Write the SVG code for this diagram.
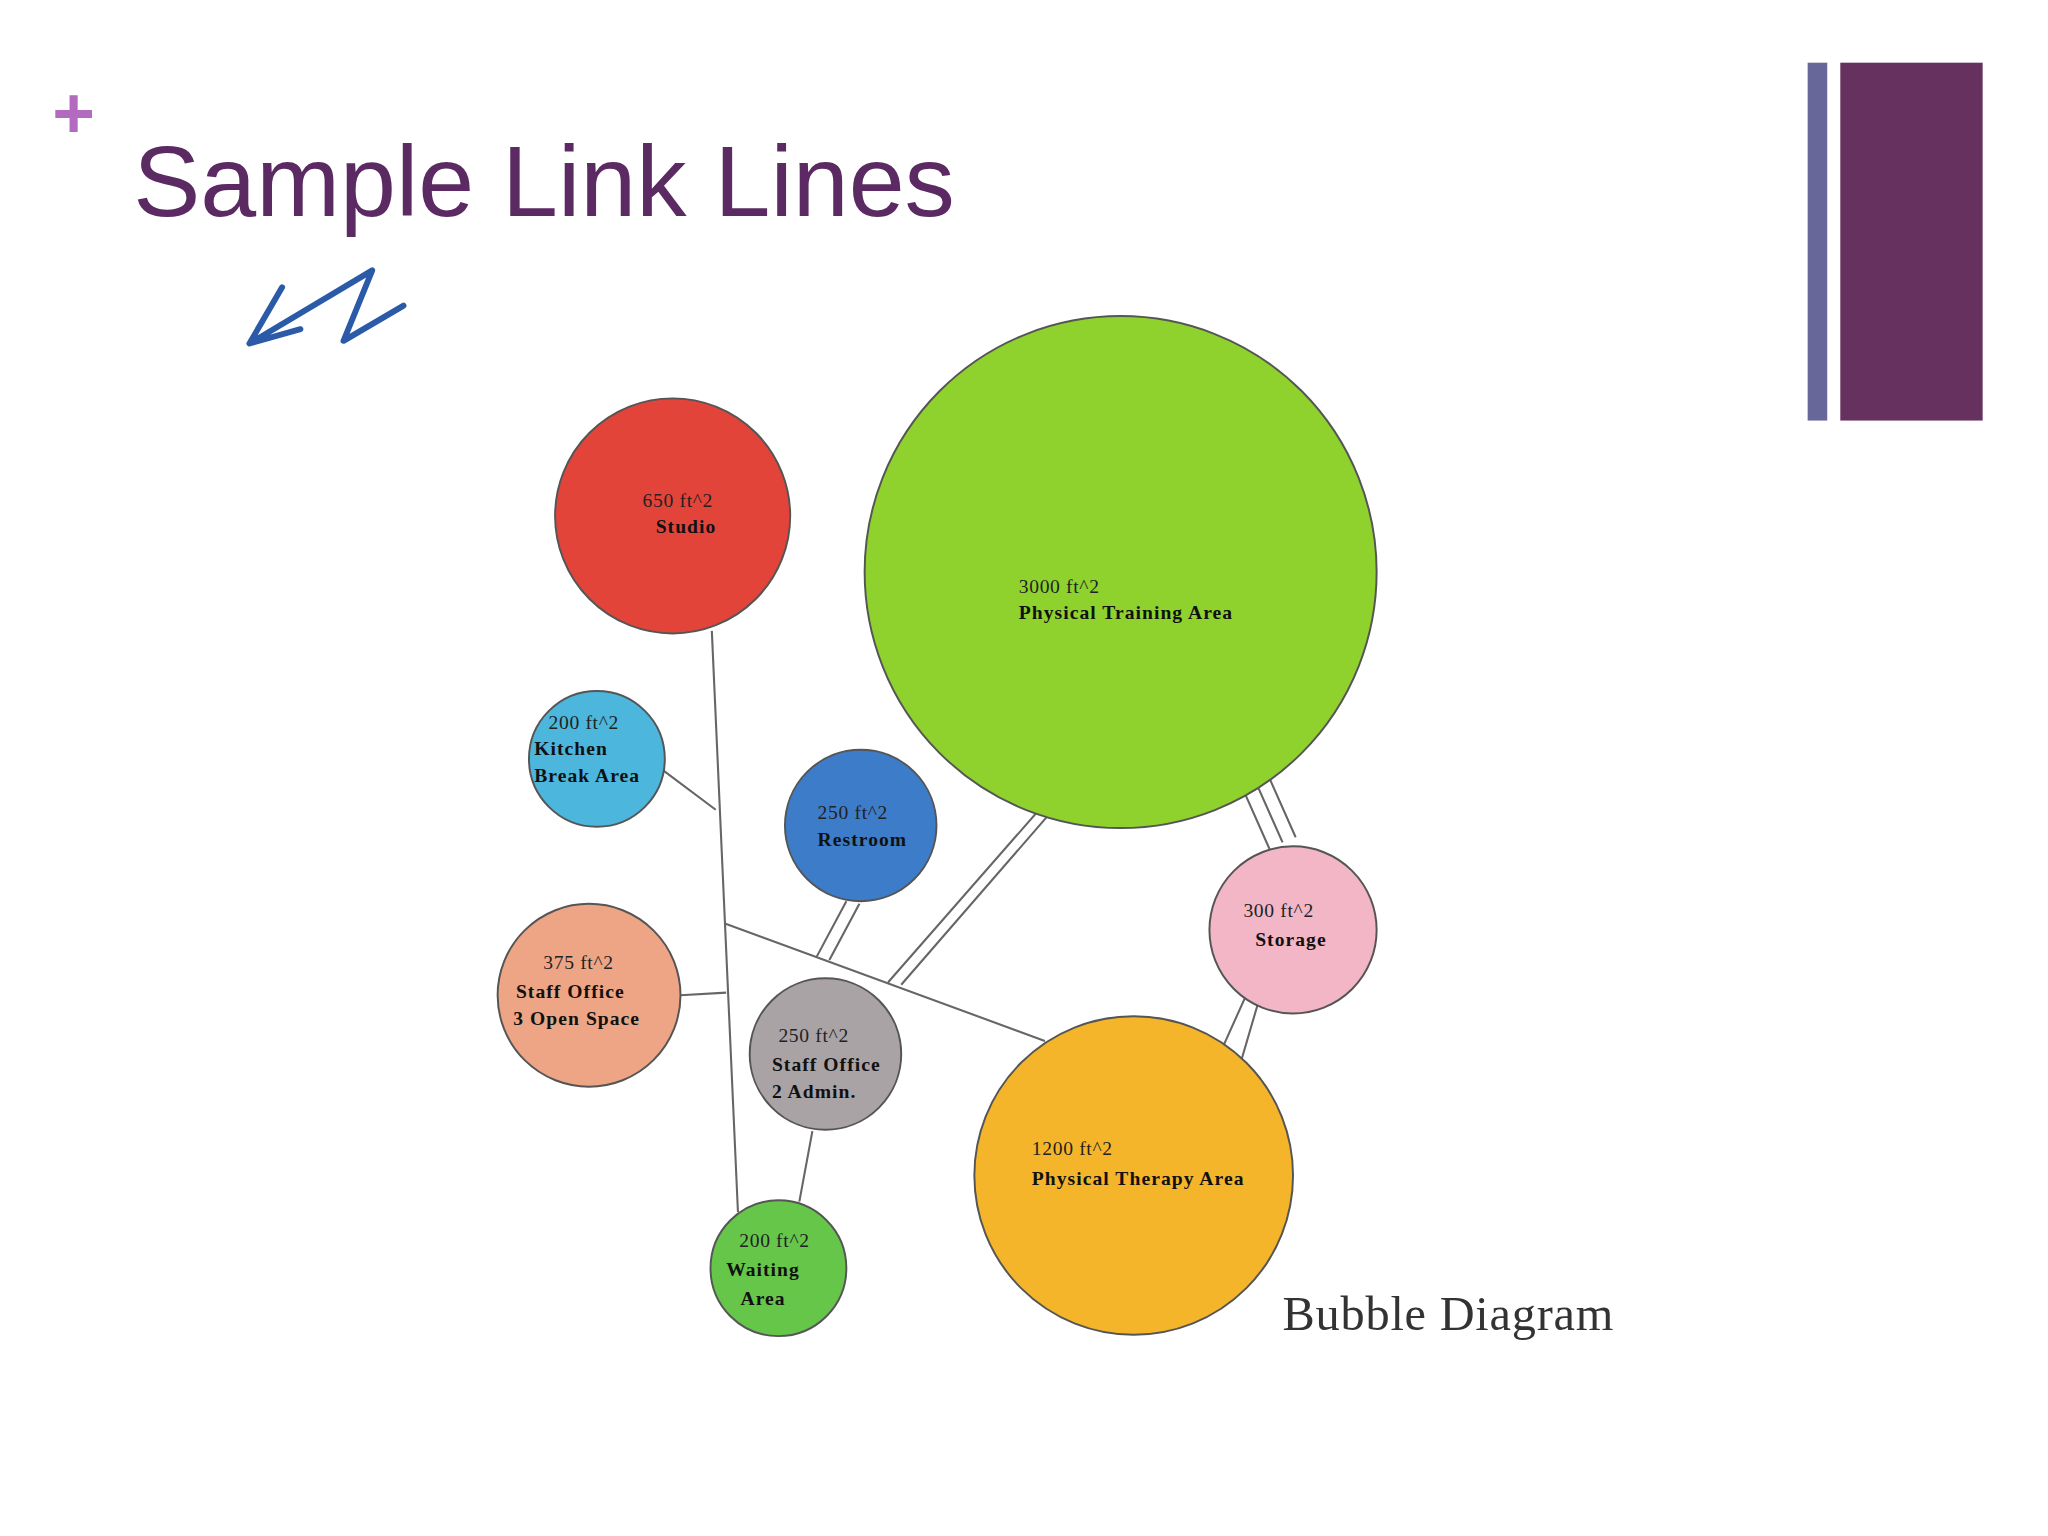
<svg xmlns="http://www.w3.org/2000/svg" width="2048" height="1536" viewBox="0 0 2048 1536">
<style>
.b{stroke:#555;stroke-width:1.5}
.t{font-family:"Liberation Serif",serif;font-size:15px;fill:#222;letter-spacing:0.5px}
.tb{font-family:"Liberation Serif",serif;font-size:15px;font-weight:bold;fill:#111;letter-spacing:0.8px}
.c{stroke:#666;stroke-width:1.6;fill:none}
</style>
<rect width="2048" height="1536" fill="#fff"/>
<g transform="scale(1.3061)">
<text x="40" y="106" font-family="Liberation Sans,sans-serif" font-size="56" font-weight="bold" fill="#b36bbf">+</text>
<text x="102" y="165" font-family="Liberation Sans,sans-serif" font-size="77" fill="#5b2a62">Sample Link Lines</text>
<rect x="1384" y="48" width="15" height="274" fill="#676899"/>
<rect x="1409" y="48" width="109" height="274" fill="#66305f"/>
<path d="M216 220 L191 263 L230 252 M191 263 L285 207 L263 261 L309 234" stroke="#2a5aa8" stroke-width="4.5" fill="none" stroke-linecap="round" stroke-linejoin="round"/>
<g id="connectors">
<path class="c" d="M545 483 L565 928 M508 590 L548 620 M521 762 L556 760 M555 707 L800 797 M622 866 L612 920 M648 690 L625 733 M658 692 L635 735 M800 615 L680 752 M808 618 L690 754 M952 605 L972 650 M962 600 L982 645 M972 596 L992 641 M955 760 L937 800 M965 762 L948 820"/>
</g>
<g id="studio"><circle class="b" cx="515" cy="395" r="90" fill="#e2443a"/><text class="t" x="492" y="388">650 ft^2</text><text class="tb" x="502" y="408">Studio</text></g>
<g id="training"><circle class="b" cx="858" cy="438" r="196" fill="#8fd22e"/><text class="t" x="780" y="454">3000 ft^2</text><text class="tb" x="780" y="474">Physical Training Area</text></g>
<g id="kitchen"><circle class="b" cx="457" cy="581" r="52" fill="#4cb6dc"/><text class="t" x="420" y="558">200 ft^2</text><text class="tb" x="409" y="578">Kitchen</text><text class="tb" x="409" y="599">Break Area</text></g>
<g id="restroom"><circle class="b" cx="659" cy="632" r="58" fill="#3d7cc8"/><text class="t" x="626" y="627">250 ft^2</text><text class="tb" x="626" y="648">Restroom</text></g>
<g id="storage"><circle class="b" cx="990" cy="712" r="64" fill="#f2b6c6"/><text class="t" x="952" y="702">300 ft^2</text><text class="tb" x="961" y="724">Storage</text></g>
<g id="staff3"><circle class="b" cx="451" cy="762" r="70" fill="#eea585"/><text class="t" x="416" y="742">375 ft^2</text><text class="tb" x="395" y="764">Staff Office</text><text class="tb" x="393" y="785">3 Open Space</text></g>
<g id="staff2"><circle class="b" cx="632" cy="807" r="58" fill="#a9a3a6"/><text class="t" x="596" y="798">250 ft^2</text><text class="tb" x="591" y="820">Staff Office</text><text class="tb" x="591" y="841">2 Admin.</text></g>
<g id="therapy"><circle class="b" cx="868" cy="900" r="122" fill="#f4b52a"/><text class="t" x="790" y="884">1200 ft^2</text><text class="tb" x="790" y="907">Physical Therapy Area</text></g>
<g id="waiting"><circle class="b" cx="596" cy="971" r="52" fill="#66c64a"/><text class="t" x="566" y="955">200 ft^2</text><text class="tb" x="556" y="977">Waiting</text><text class="tb" x="567" y="999">Area</text></g>
<text x="982" y="1018" font-family="Liberation Serif,serif" font-size="37" letter-spacing="0.6" fill="#333">Bubble Diagram</text>
</g>
</svg>
